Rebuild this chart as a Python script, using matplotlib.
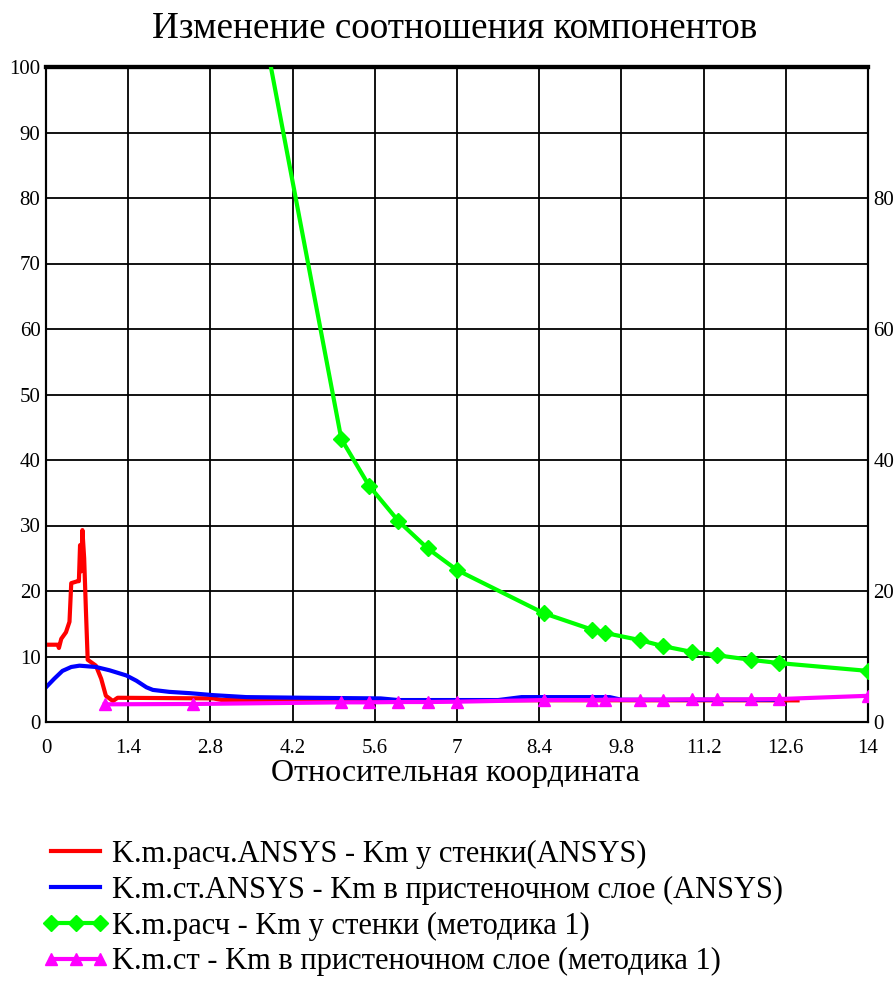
import matplotlib
matplotlib.use("Agg")
import matplotlib.pyplot as plt
import numpy as np

plt.rcParams['font.family'] = ['Liberation Serif', 'DejaVu Serif']

# ---- data ----
title = "Изменение соотношения компонентов"
xlabel = "Относительная координата"
labels = [
    "K.m.расч.ANSYS - Km у стенки(ANSYS)",
    "K.m.ст.ANSYS - Km в пристеночном слое (ANSYS)",
    "K.m.расч - Km у стенки (методика 1)",
    "K.m.ст - Km в пристеночном слое (методика 1)",
]

red_x = [0.0, 0.2, 0.22, 0.26, 0.34, 0.40, 0.43, 0.54, 0.56, 0.58, 0.60, 0.62,
         0.65, 0.68, 0.70, 0.71, 0.85, 0.94, 1.02, 1.14, 1.22, 2.85, 3.0, 12.8]
red_y = [11.8, 11.8, 11.3, 12.7, 13.7, 15.3, 21.2, 21.5, 21.5, 27.0, 23.0, 29.3,
         25.0, 17.0, 12.0, 9.5, 8.6, 6.6, 4.0, 3.2, 3.7, 3.6, 3.35, 3.3]

blue_x = [0.0, 0.14, 0.28, 0.43, 0.57, 0.85, 1.08, 1.37, 1.54, 1.71, 1.82, 2.1,
          2.45, 2.85, 3.41, 4.4, 5.7, 6.0, 7.7, 8.1, 9.6, 9.8, 12.45]
blue_y = [5.3, 6.6, 7.8, 8.4, 8.6, 8.4, 7.9, 7.1, 6.3, 5.3, 4.9, 4.6,
          4.4, 4.1, 3.8, 3.7, 3.6, 3.35, 3.35, 3.8, 3.8, 3.4, 3.4]

met_x = [1.0, 2.5, 5.03, 5.5, 6.0, 6.5, 7.0, 8.48, 9.3, 9.52, 10.12, 10.5,
         11.0, 11.42, 12.0, 12.48, 14.0]
green_y = [400.0, 163.0, 43.2, 36.1, 30.7, 26.5, 23.2, 16.6, 14.1, 13.6, 12.5, 11.6,
           10.7, 10.2, 9.5, 9.0, 7.8]
magenta_y = [2.7, 2.75, 3.0, 3.0, 3.05, 3.05, 3.1, 3.35, 3.35, 3.4, 3.4, 3.4,
             3.45, 3.45, 3.45, 3.5, 4.0]

x_ticks = [0, 1.4, 2.8, 4.2, 5.6, 7, 8.4, 9.8, 11.2, 12.6, 14]
x_tick_labels = ["0", "1.4", "2.8", "4.2", "5.6", "7", "8.4", "9.8", "11.2", "12.6", "14"]
y_ticks_left = list(range(0, 101, 10))
y_ticks_right = [0, 20, 40, 60, 80]

# ---- figure ----
W, H = 896, 983
fig = plt.figure(figsize=(W / 100, H / 100), dpi=100)
L, R, T, B = 46, 868, 67, 722
ax = fig.add_axes([L / W, 1 - B / H, (R - L) / W, (B - T) / H])
ax2 = ax.twinx()

ax.set_xlim(0, 14)
ax.set_ylim(0, 100)
ax2.set_ylim(0, 100)

ax.set_xticks(x_ticks)
ax.set_xticklabels(x_tick_labels)
ax.set_yticks(y_ticks_left)
ax2.set_yticks(y_ticks_right)

for a in (ax, ax2):
    a.tick_params(length=0, labelsize=15, pad=4, colors='black')
ax.tick_params(axis='x', pad=12)

ax.grid(True, color='black', linewidth=1.3)
for s in ax.spines.values():
    s.set_linewidth(1.5)
for s in ax2.spines.values():
    s.set_linewidth(1.5)
ax.spines['top'].set_linewidth(3)
ax2.spines['top'].set_linewidth(3)

l1, = ax.plot(red_x, red_y, color='#ff0000', lw=3, zorder=3)
l2, = ax.plot(blue_x, blue_y, color='#0000ff', lw=3, zorder=3)
l3, = ax2.plot(met_x, green_y, color='#00ff00', lw=3, marker='D', ms=8, zorder=4)
l4, = ax2.plot(met_x, magenta_y, color='#ff00ff', lw=3, marker='^', ms=8, zorder=5)

fig.text((152 + 757) / 2 / W, 1 - 29 / H, title, ha='center', va='center', fontsize=26.7)
fig.text((270 + 641) / 2 / W, 1 - 773 / H, xlabel, ha='center', va='center', fontsize=23)

fig.legend([l1, l2, l3, l4], labels, loc='upper left',
           bbox_to_anchor=(42 / W, 1 - 840 / H), frameon=False,
           fontsize=22, numpoints=3, handlelength=2.2, handletextpad=0.1,
           labelspacing=0.22, borderaxespad=0, borderpad=0)

fig.savefig("out.png", dpi=100)
